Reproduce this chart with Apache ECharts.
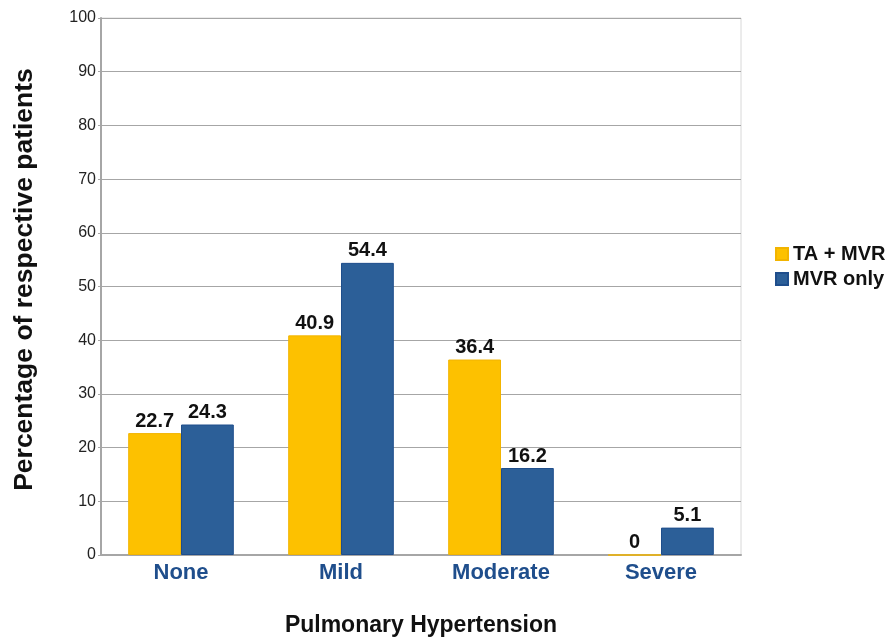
<!DOCTYPE html>
<html><head><meta charset="utf-8">
<script src="https://cdn.jsdelivr.net/npm/echarts@6/dist/echarts.min.js"></script>
<style>html,body{margin:0;padding:0;background:#fff}#c{width:893px;height:639px}</style>
</head><body><div id="c"></div>
<script>
var categories = ['None', 'Mild', 'Moderate', 'Severe'];
var taMvr = [22.7, 40.9, 36.4, 0];
var mvrOnly = [24.3, 54.4, 16.2, 5.1];
var seriesNames = ['TA + MVR', 'MVR only'];
var yTicks = [0, 10, 20, 30, 40, 50, 60, 70, 80, 90, 100];

var chart = echarts.init(document.getElementById('c'));
var labelStyle = {show: true, position: 'top', distance: 2, color: '#111', fontWeight: 'bold', fontSize: 20, fontFamily: 'Liberation Sans, Arial, sans-serif'};
chart.setOption({
  animation: false,
  backgroundColor: '#fff',
  textStyle: {fontFamily: 'Liberation Sans, Arial, sans-serif'},
  grid: {left: 101, right: 152, top: 18, bottom: 84, show: true, borderColor: '#d8d8d8', borderWidth: 1, containLabel: false, outerBoundsMode: 'none'},
  legend: {
    orient: 'vertical', left: 770, top: 239, itemWidth: 12, itemHeight: 12, itemGap: 5,
    icon: 'rect',
    textStyle: {fontSize: 20, fontWeight: 'bold', color: '#111'},
    data: seriesNames
  },
  xAxis: {
    type: 'category', data: categories,
    axisLine: {lineStyle: {color: '#a6a6a6', width: 2}},
    axisTick: {show: false},
    axisLabel: {color: '#1f4e8c', fontWeight: 'bold', fontSize: 22, margin: 7},
    name: 'Pulmonary Hypertension', nameLocation: 'middle', nameGap: 59,
    nameTextStyle: {fontSize: 23, fontWeight: 'bold', color: '#111'}
  },
  yAxis: {
    type: 'value', min: 0, max: 100, interval: 10,
    axisLine: {show: true, lineStyle: {color: '#a6a6a6', width: 2}},
    axisTick: {show: true, length: 3, inside: false, lineStyle: {color: '#a6a6a6'}},
    axisLabel: {color: '#222', fontSize: 16, margin: 5, formatter: function(v){return yTicks.indexOf(v) >= 0 ? String(v) : '';}},
    splitLine: {lineStyle: {color: '#a6a6a6', width: 1}},
    name: 'Percentage of respective patients', nameLocation: 'middle', nameGap: 63,
    nameTextStyle: {fontSize: 26.5, fontWeight: 'bold', color: '#111', padding: [0, 0, 0, 14]}
  },
  series: [
    {name: seriesNames[0], type: 'bar', data: taMvr, barGap: '0%', barCategoryGap: '34%',
     itemStyle: {color: '#fdc100', borderColor: '#f2b400', borderWidth: 1}, label: labelStyle},
    {name: seriesNames[1], type: 'bar', data: mvrOnly,
     itemStyle: {color: '#2c5f98', borderColor: '#1f4e8c', borderWidth: 1}, label: labelStyle}
  ]
});
</script></body></html>
